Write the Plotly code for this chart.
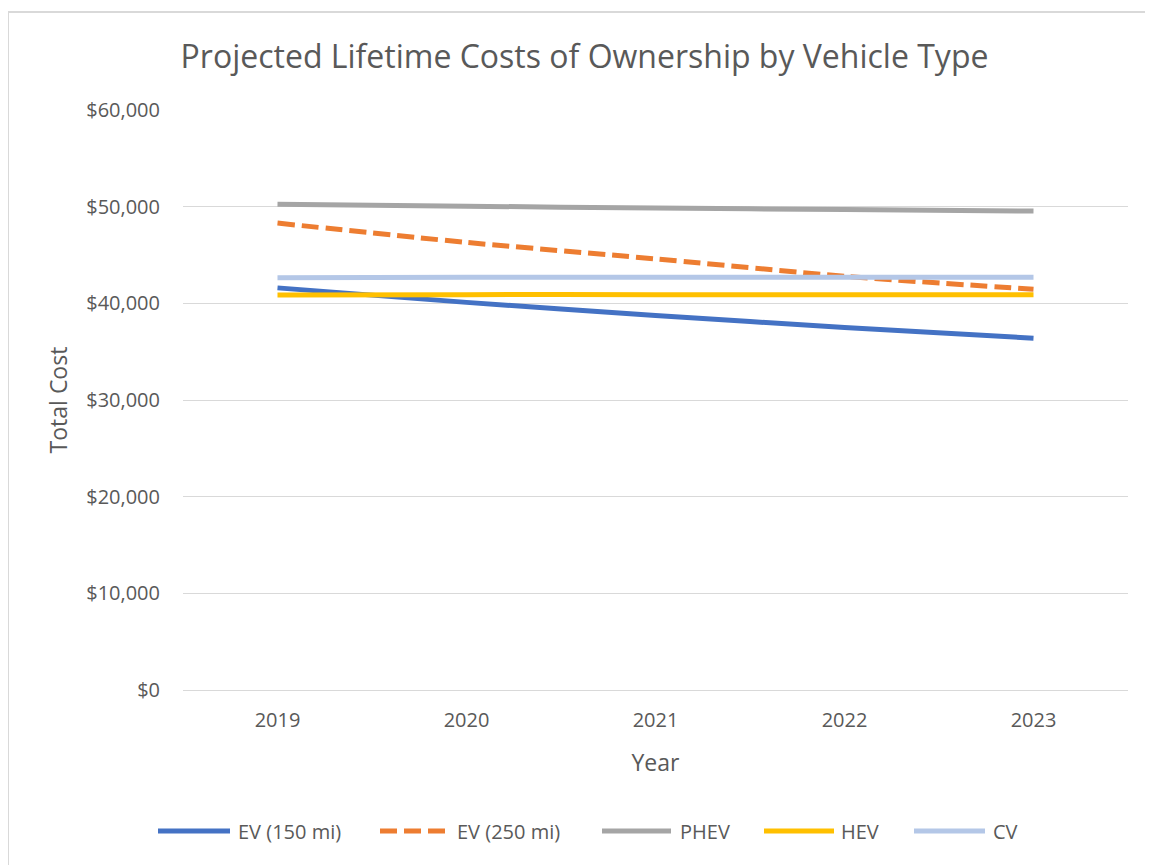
import plotly.graph_objects as go

years = ["2019", "2020", "2021", "2022", "2023"]
ev150 = [41600, 40100, 38750, 37500, 36400]
ev250 = [48300, 46300, 44600, 42800, 41450]
phev = [50250, 50050, 49850, 49700, 49550]
hev = [40850, 40900, 40900, 40900, 40900]
cv = [42650, 42700, 42700, 42700, 42700]

names = ["EV (150 mi)", "EV (250 mi)", "PHEV", "HEV", "CV"]
values = [ev150, ev250, phev, hev, cv]
colors = ["#4472C4", "#ED7D31", "#A5A5A5", "#FFC000", "#B4C7E7"]
dashes = ["solid", "17px,7px", "solid", "solid", "solid"]

# page geometry (plot area in page pixels; page has an 8px body offset)
PX0, PX1, PY0, PY1 = 183, 1128, 110, 690


def px(x):
    return (x - PX0) / (PX1 - PX0)


def py(y):
    return (PY1 - y) / (PY1 - PY0)


fig = go.Figure()
for name, vals, color, dash in zip(names, values, colors, dashes):
    fig.add_trace(go.Scatter(
        x=years, y=vals, name=name, mode="lines", showlegend=False,
        line=dict(color=color, width=5, dash=dash, shape="spline", smoothing=0.6),
    ))

font_color = "#595959"
fam = "Open Sans, Noto Sans, sans-serif"
fig.update_layout(
    width=1153, height=865,
    paper_bgcolor="white", plot_bgcolor="white",
    margin=dict(l=175, r=33, t=102, b=183),
    font=dict(family=fam, color=font_color, size=20),
    title=dict(text="Projected Lifetime Costs of Ownership by Vehicle Type",
               x=0.5, xref="container", xanchor="center",
               y=0.9434, yref="container", yanchor="middle",
               font=dict(size=32, color=font_color)),
    xaxis=dict(type="category", range=[-0.5, 4.5], showgrid=False,
               showline=False, ticks="", tickfont=dict(size=20, color=font_color),
               ticklabelstandoff=16,
               title=dict(text="Year", font=dict(size=23, color=font_color), standoff=22)),
    yaxis=dict(range=[0, 60000], dtick=10000, tickformat="$,.0f",
               showgrid=True, gridcolor="#D9D9D9", gridwidth=1.3,
               zeroline=True, zerolinecolor="#D9D9D9", zerolinewidth=1.3,
               showline=False, ticks="", tickfont=dict(size=20, color=font_color),
               ticklabelstandoff=22,
               title=dict(text="Total Cost", font=dict(size=23, color=font_color), standoff=12)),
    showlegend=False,
)

# custom legend (long line samples like the original)
legend_y = 831
legend_lines = [(158, 230), (380, 446), (602, 671), (764, 834), (914, 985)]
legend_text_x = [236, 455, 678, 839, 991]
for name, color, dash, (lx0, lx1), tx in zip(names, colors, dashes, legend_lines, legend_text_x):
    fig.add_shape(type="line", xref="paper", yref="paper",
                  x0=px(lx0), x1=px(lx1), y0=py(legend_y), y1=py(legend_y),
                  line=dict(color=color, width=5, dash=dash))
    fig.add_annotation(xref="paper", yref="paper", x=px(tx), y=py(legend_y),
                       text=name, showarrow=False, xanchor="left", yanchor="middle",
                       font=dict(size=20, color=font_color, family=fam))

# chart outer border (light gray) on left and top
fig.add_shape(type="line", xref="paper", yref="paper",
              x0=px(8), x1=px(8), y0=py(880), y1=py(12),
              line=dict(color="#D9D9D9", width=2))
fig.add_shape(type="line", xref="paper", yref="paper",
              x0=px(8), x1=px(1170), y0=py(12), y1=py(12),
              line=dict(color="#D9D9D9", width=2))

fig.write_html("out.html")
